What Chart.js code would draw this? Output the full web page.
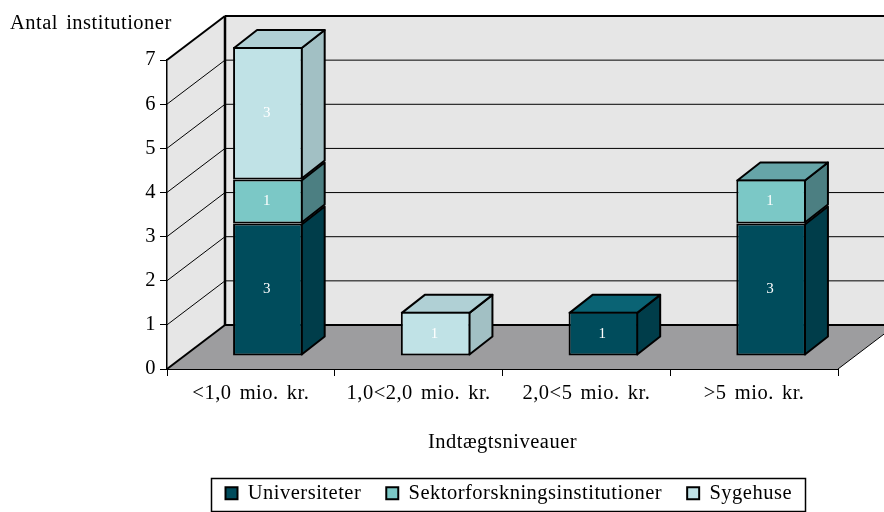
<!DOCTYPE html>
<html><head><meta charset="utf-8">
<style>html,body{margin:0;padding:0;background:#fff}#w{width:884px;height:512px;position:relative}</style>
<script src="https://cdn.jsdelivr.net/npm/chart.js@4"></script>
</head><body><div id="w"><canvas id="c" width="884" height="512"></canvas></div>
<script>
const categories = ['<1,0 mio. kr.', '1,0<2,0 mio. kr.', '2,0<5 mio. kr.', '>5 mio. kr.'];
const universiteter = [3, null, 1, 3];
const sektor = [1, null, null, 1];
const sygehuse = [3, 1, null, null];
const seriesNames = ['Universiteter', 'Sektorforskningsinstitutioner', 'Sygehuse'];
const frontColors = ['#004c5c', '#7bc8c6', '#c0e2e6'];
const sideColors = ['#003d4a', '#4c7f82', '#a2c0c4'];
const topColors = ['#0a6374', '#66a5a8', '#b0d0d5'];
const yTicks = [0, 1, 2, 3, 4, 5, 6, 7];
const yTitle = 'Antal institutioner';
const xTitle = 'Indtægtsniveauer';

const FONT = '"Liberation Serif", serif';
const FS = 20.5;
const WALL = {dx: 58, dy: -44};
const BAR = {dx: 17, dy: -13, sx: 23, sy: -18};

function poly(ctx, pts, fill, lw) {
  ctx.beginPath();
  pts.forEach((p, i) => i ? ctx.lineTo(p[0], p[1]) : ctx.moveTo(p[0], p[1]));
  ctx.closePath();
  if (fill) { ctx.fillStyle = fill; ctx.fill(); }
  if (lw) { ctx.lineWidth = lw; ctx.strokeStyle = '#000'; ctx.stroke(); }
}
function line(ctx, x1, y1, x2, y2, lw) {
  ctx.beginPath(); ctx.moveTo(x1, y1); ctx.lineTo(x2, y2);
  ctx.lineWidth = lw; ctx.strokeStyle = '#000'; ctx.stroke();
}
function spacing(ctx) { ctx.letterSpacing = '0.5px'; ctx.wordSpacing = '2.5px'; }

const scene = {
  id: 'scene',
  beforeUpdate(chart) { spacing(chart.ctx); },
  afterLayout(chart) {
    const lg = chart.legend;
    const pad = lg.options.labels.padding;
    const w = lg.width, h = lg.height;
    lg.left = 225.5 - pad; lg.right = lg.left + w;
    lg.top = 483 - pad; lg.bottom = lg.top + h;
  },
  beforeDraw(chart) {
    const ctx = chart.ctx, {left, right} = chart.chartArea;
    spacing(ctx);
    const y = chart.scales.y;
    const y0 = y.getPixelForValue(0), yMax = y.getPixelForValue(7);
    const {dx, dy} = WALL;
    ctx.save();
    ctx.lineJoin = 'round';
    poly(ctx, [[left, y0], [left, yMax], [left + dx, yMax + dy], [left + dx, y0 + dy]], '#e6e6e6');
    poly(ctx, [[left + dx, y0 + dy], [left + dx, yMax + dy], [right + dx, yMax + dy], [right + dx, y0 + dy]], '#e6e6e6');
    poly(ctx, [[left, y0], [right, y0], [right + dx, y0 + dy], [left + dx, y0 + dy]], '#9d9d9f');
    yTicks.forEach(v => {
      const p = y.getPixelForValue(v);
      const edge = v === 0 || v === 7;
      line(ctx, left, p, left + dx, p + dy, edge ? 2 : 1);
      line(ctx, left + dx, p + dy, right + dx, p + dy, edge ? 2 : 1);
    });
    line(ctx, left + dx, yMax + dy, left + dx, y0 + dy, 2.5);
    line(ctx, right, y0, right + dx, y0 + dy, 1);
    ctx.restore();
  },
  beforeDatasetsDraw(chart) {
    const ctx = chart.ctx;
    ctx.save();
    ctx.translate(BAR.dx, BAR.dy);
    ctx.lineJoin = 'round';
    const {sx, sy} = BAR;
    const tops = {};
    chart.data.datasets.forEach((ds, di) => {
      chart.getDatasetMeta(di).data.forEach((el, i) => {
        if (ds.data[i] == null) return;
        const {x, y, base, width} = el.getProps(['x', 'y', 'base', 'width'], true);
        const r = x + width / 2 - 1;
        poly(ctx, [[r, base - 1], [r + sx, base - 1 + sy], [r + sx, y + 1 + sy], [r, y + 1]], sideColors[di], 2);
        tops[i] = {x, y, width, di};
      });
    });
    Object.values(tops).forEach(t => {
      const l = t.x - t.width / 2 + 1, r = t.x + t.width / 2 - 1, yy = t.y + 1;
      poly(ctx, [[l, yy], [r, yy], [r + sx, yy + sy], [l + sx, yy + sy]], topColors[t.di], 2);
    });
  },
  afterDatasetsDraw(chart) {
    const ctx = chart.ctx;
    ctx.fillStyle = '#fff';
    ctx.font = '15px ' + FONT;
    ctx.textAlign = 'center';
    ctx.textBaseline = 'middle';
    chart.data.datasets.forEach((ds, di) => {
      chart.getDatasetMeta(di).data.forEach((el, i) => {
        if (ds.data[i] == null) return;
        const {x, y, base} = el.getProps(['x', 'y', 'base'], true);
        ctx.fillText(String(ds.data[i]), x - 1, (y + base) / 2);
      });
    });
    ctx.restore();
  },
  afterDraw(chart) {
    const ctx = chart.ctx;
    ctx.save();
    ctx.lineWidth = 1.5; ctx.strokeStyle = '#000';
    ctx.strokeRect(211.5, 478.5, 594, 33);
    ctx.restore();
  }
};

new Chart(document.getElementById('c'), {
  type: 'bar',
  data: {
    labels: categories,
    datasets: [universiteter, sektor, sygehuse].map((d, i) => ({
      label: seriesNames[i], data: d, backgroundColor: frontColors[i],
      borderColor: '#000', borderWidth: 2, borderSkipped: false,
      categoryPercentage: 1, barPercentage: 0.415, clip: false
    }))
  },
  options: {
    responsive: false, animation: false,
    layout: {padding: {left: 10, right: 46, top: 11, bottom: 0}},
    plugins: {
      tooltip: {enabled: false},
      title: {display: true, text: yTitle, align: 'start', color: '#000',
        font: {family: FONT, size: FS, weight: 'normal', lineHeight: 1.2},
        padding: {top: 0, bottom: 24.4}},
      legend: {display: true, position: 'bottom', align: 'start',
        labels: {color: '#000', font: {family: FONT, size: FS}, boxWidth: 12, boxHeight: 12, padding: 25}}
    },
    scales: {
      x: {
        stacked: true, offset: true,
        afterFit: s => { s.height = 143 - (s.chart.legend ? s.chart.legend.height : 0); },
        grid: {offset: true, drawOnChartArea: false, color: '#000', tickLength: 7, tickColor: '#000'},
        border: {color: '#000', width: 1},
        ticks: {color: '#000', font: {family: FONT, size: FS}, padding: 5, maxRotation: 0, autoSkip: false},
        title: {display: true, text: xTitle, color: '#000', font: {family: FONT, size: FS}, padding: {top: 0, bottom: 2}}
      },
      y: {
        stacked: true, min: 0, max: 7,
        afterFit: s => { s.width = 157; },
        grid: {drawOnChartArea: false, color: '#000', tickLength: 7, tickColor: '#000'},
        border: {color: '#000', width: 1.5},
        ticks: {color: '#000', font: {family: FONT, size: FS}, padding: 4, stepSize: 1}
      }
    }
  },
  plugins: [scene]
});
</script></body></html>
